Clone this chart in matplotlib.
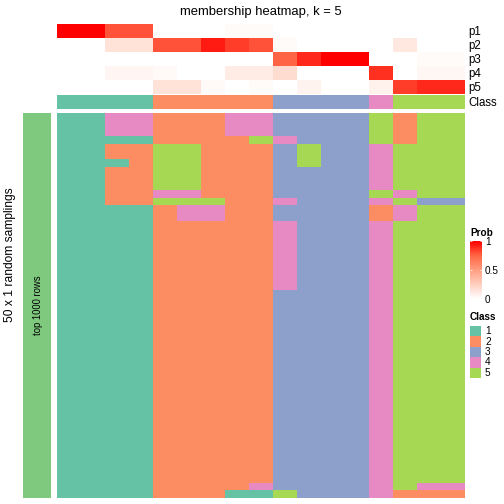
import numpy as np
import matplotlib
matplotlib.use("Agg")
import matplotlib.pyplot as plt
from matplotlib.colors import LinearSegmentedColormap, ListedColormap

plt.rcParams['font.family'] = ['Liberation Sans', 'DejaVu Sans']

# membership probabilities, one row per class, 17 columns
prob_labels = ["p1", "p2", "p3", "p4", "p5"]
p1 = [1.0, 1.0, 0.8, 0.8, 0, 0, 0, 0.02, 0.02, 0, 0, 0, 0, 0, 0, 0, 0]
p2 = [0, 0, 0.15, 0.15, 0.8, 0.8, 0.93, 0.85, 0.8, 0.02, 0, 0, 0, 0, 0.12, 0, 0]
p3 = [0, 0, 0, 0, 0, 0, 0, 0, 0, 0.75, 0.9, 1.0, 1.0, 0, 0, 0.02, 0.02]
p4 = [0, 0, 0.05, 0.05, 0.03, 0, 0, 0.1, 0.1, 0.18, 0, 0, 0, 0.88, 0, 0.04, 0.04]
p5 = [0, 0, 0, 0, 0.15, 0.15, 0.03, 0, 0.02, 0, 0.06, 0, 0, 0.07, 0.85, 0.9, 0.9]
class_row = [1, 1, 1, 1, 2, 2, 2, 2, 2, 3, 3, 3, 3, 4, 5, 5, 5]

# class of each column in each of the 50 random samplings
samplings = (
    ["11442224433335255"] * 3
    + ["11112222543335255"]
    + ["11225522235334555"] * 2
    + ["11125522235334555"]
    + ["11225522233334555"] * 3
    + ["11224422233335455"]
    + ["11225552243334533"]
    + ["11112442233332455"] * 2
    + ["11112222243334555"] * 9
    + ["11112222233334555"] * 25
    + ["11112222433334544"]
    + ["11112221153334222"]
)

class_names = ["1", "2", "3", "4", "5"]
class_colors = ["#66C2A5", "#FC8D62", "#8DA0CB", "#E78AC3", "#A6D854"]
prob_ticks = [0, 0.5, 1]

W = H = 504.0
fig = plt.figure(figsize=(7, 7), dpi=72)

def add_ax(x0, y0, x1, y1):
    return fig.add_axes([x0 / W, 1 - y1 / H, (x1 - x0) / W, (y1 - y0) / H])

prob_cmap = LinearSegmentedColormap.from_list(
    "prob", [(0, "#FFFFFF"), (0.25, "#FFCFBF"), (0.5, "#FF9E81"),
             (0.75, "#FF6746"), (1, "#FF0000")])
class_cmap = ListedColormap(class_colors)

# probability heatmap
ax = add_ax(57, 24, 465, 94)
ax.imshow(np.array([p1, p2, p3, p4, p5]), cmap=prob_cmap, vmin=0, vmax=1,
          aspect="auto", interpolation="nearest")
ax.set_xticks([])
ax.set_yticks(range(5))
ax.set_yticklabels(prob_labels, fontsize=11.5)
ax.yaxis.tick_right()
ax.tick_params(axis="y", length=0, pad=3)
for s in ax.spines.values():
    s.set_visible(False)
fig.text(261 / W, 1 - 12 / H, "membership heatmap, k = 5", fontsize=13,
         ha="center", va="center")

# class annotation row
ax = add_ax(57, 95, 465, 109)
ax.imshow(np.array([class_row]) - 1, cmap=class_cmap, vmin=-0.5, vmax=4.5,
          aspect="auto", interpolation="nearest")
ax.set_xticks([])
ax.set_yticks([0])
ax.set_yticklabels(["Class"], fontsize=11.5)
ax.yaxis.tick_right()
ax.tick_params(axis="y", length=0, pad=3)
for s in ax.spines.values():
    s.set_visible(False)

# samplings heatmap
mat = np.array([[int(c) for c in r] for r in samplings])
ax = add_ax(57, 113, 465, 498)
ax.imshow(mat - 1, cmap=class_cmap, vmin=-0.5, vmax=4.5,
          aspect="auto", interpolation="nearest")
ax.set_xticks([])
ax.set_yticks([])
for s in ax.spines.values():
    s.set_visible(False)

# left annotation bar
ax = add_ax(23, 113, 51, 498)
ax.set_facecolor("#7FC97F")
ax.set_xticks([])
ax.set_yticks([])
for s in ax.spines.values():
    s.set_visible(False)
fig.text(38 / W, 1 - 305 / H, "top 1000 rows", rotation=90, ha="center",
         va="center", fontsize=9.5)

fig.text(10 / W, 1 - 255 / H, "50 x 1 random samplings", rotation=90,
         ha="center", va="center", fontsize=12)

# Prob legend
fig.text(470 / W, 1 - 233 / H, "Prob", fontsize=10, fontweight="bold",
         ha="left", va="center")
ax = add_ax(470, 241, 482, 299)
grad = np.linspace(1, 0, 100).reshape(-1, 1)
ax.imshow(grad, cmap=prob_cmap, vmin=0, vmax=1, aspect="auto",
          extent=[0, 1, 0, 1])
ax.set_xticks([])
ax.set_yticks(prob_ticks)
ax.set_yticklabels(["0", "0.5", "1"], fontsize=10)
ax.yaxis.tick_right()
ax.tick_params(axis="y", left=True, right=True, direction="in", length=2,
               color="white", pad=3)
for s in ax.spines.values():
    s.set_visible(False)

# Class legend
fig.text(470 / W, 1 - 317 / H, "Class", fontsize=10, fontweight="bold",
         ha="left", va="center")
for i, (name, col) in enumerate(zip(class_names, class_colors)):
    y0 = 326 + i * 10.4
    fig.patches.append(plt.Rectangle((470 / W, 1 - (y0 + 10.4) / H), 11 / W,
                                     10.4 / H, transform=fig.transFigure,
                                     facecolor=col, edgecolor="none"))
    fig.text(485 / W, 1 - (y0 + 5.2) / H, name, fontsize=10, ha="left",
             va="center")

fig.savefig("out.png", dpi=72)
